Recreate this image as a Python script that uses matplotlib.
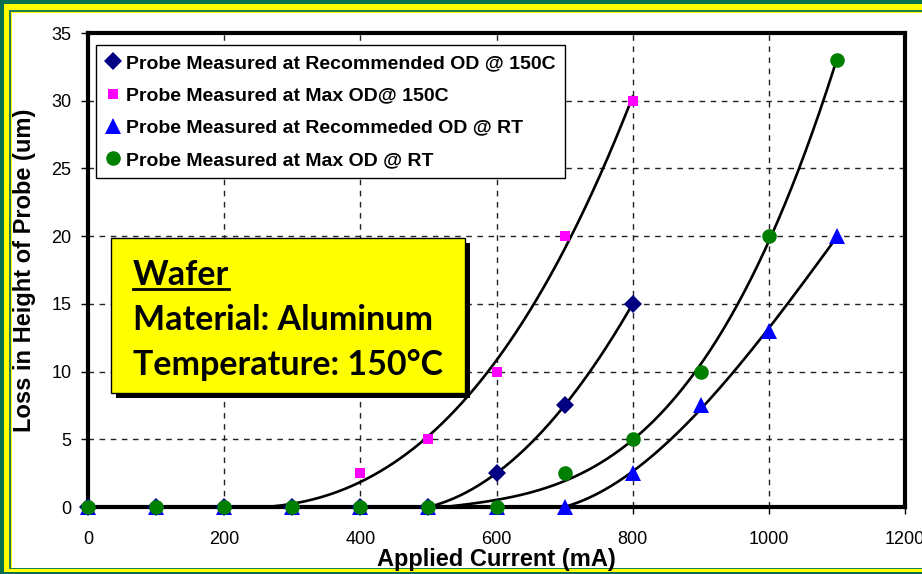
import matplotlib
matplotlib.use("Agg")
import matplotlib.pyplot as plt
from matplotlib.patches import Rectangle
from matplotlib.lines import Line2D
import numpy as np

# probe wear data, applied current in mA, height loss in um
current_150c = [0, 100, 200, 300, 400, 500, 600, 700, 800]
loss_rec_150c = [0, 0, 0, 0, 0, 0, 2.5, 7.5, 15]
loss_max_150c = [0, 0, 0, 0, 2.5, 5, 10, 20, 30]

current_rt = [0, 100, 200, 300, 400, 500, 600, 700, 800, 900, 1000, 1100]
loss_rec_rt = [0, 0, 0, 0, 0, 0, 0, 0, 2.5, 7.5, 13, 20]
loss_max_rt = [0, 0, 0, 0, 0, 0, 0, 2.5, 5, 10, 20, 33]

labels = ["Probe Measured at Recommended OD @ 150C",
          "Probe Measured at Max OD@ 150C",
          "Probe Measured at Recommeded OD @ RT",
          "Probe Measured at Max OD @ RT"]

W, H = 922, 574
fig = plt.figure(figsize=(W / 100, H / 100), dpi=100)


def fr(x0, y0, x1, y1):
    # pixel box (top-left origin) -> figure fraction rect args
    return (x0 / W, 1 - y1 / H), (x1 - x0) / W, (y1 - y0) / H


# slide frame
green = "#0b6e4c"
yellow = "#ffff00"
for (l, t, b), c in [((0, 0, 574), green), ((4, 4, 572), yellow),
                     ((9, 10, 569), "#1f7d4f"), ((10.5, 11.5, 568), yellow),
                     ((12, 13, 568), "white")]:
    xy, w, h = fr(l, t, W + 10, b)
    fig.patches.append(Rectangle(xy, w, h, transform=fig.transFigure,
                                 facecolor=c, edgecolor="none", zorder=-5))

ax = fig.add_axes([88 / W, 1 - 507 / H, (905 - 88) / W, (507 - 33) / H])
ax.set_zorder(1)
ax.set_facecolor("white")

series = [
    (current_150c, loss_rec_150c, "D", "#000080", 9.5),
    (current_150c, loss_max_150c, "s", "#ff00ff", 6.5),
    (current_rt, loss_rec_rt, "^", "#0000ff", 11),
    (current_rt, loss_max_rt, "o", "#007f00", 10.5),
]

handles = []
for (x, y, m, c, ms), lab in zip(series, labels):
    h, = ax.plot(x, y, linestyle="none", marker=m, color=c, markersize=ms,
                 markeredgewidth=0, clip_on=False, zorder=5, label=lab)
    handles.append(h)
    # cubic trendline over the rising part (from two zeros before the onset)
    x = np.asarray(x, float)
    y = np.asarray(y, float)
    k = max(np.argmax(y > 0) - 2, 0)
    coef = np.polyfit(x[k:], y[k:], 3)
    xs = np.linspace(x[k], x[-1], 300)
    ys = np.clip(np.polyval(coef, xs), 0, None)
    ax.plot(xs, ys, color="black", lw=1.9, zorder=4)

ax.set_xlim(0, 1200)
ax.set_ylim(0, 35)
ax.set_xticks(range(0, 1201, 200))
ax.set_yticks(range(0, 36, 5))
ax.grid(True, color="#222222", linestyle=(0, (4, 4)), linewidth=1)
ax.set_axisbelow(True)
for s in ax.spines.values():
    s.set_linewidth(3)
    s.set_zorder(3)
ax.tick_params(direction="out", length=5, width=1)
ax.tick_params(axis="x", labelsize=13, pad=12)
ax.tick_params(axis="y", labelsize=13, pad=7)
for t in ax.get_xticklabels() + ax.get_yticklabels():
    t.set_family("Liberation Sans")

ax.set_xlabel("Applied Current (mA)", fontsize=17, fontweight="bold",
              family="Liberation Sans")
ax.set_ylabel("Loss in Height of Probe (um)", fontsize=17, fontweight="bold",
              family="Liberation Sans")
ax.xaxis.set_label_coords(0.5, -(548 - 507) / 474)
ax.yaxis.set_label_coords(-0.064, 0.5)

leg = ax.legend(handles=handles, loc="upper left",
                bbox_to_anchor=(8 / 817, (507 - 45) / 474), borderaxespad=0,
                fancybox=False, framealpha=1, edgecolor="black",
                prop={"family": "Liberation Sans", "weight": "bold", "size": 14},
                handlelength=0.75, handletextpad=0.3, labelspacing=0.76,
                borderpad=0.48)
leg.get_frame().set_linewidth(1)
leg.set_zorder(10)

# info box with drop shadow
xy, w, h = fr(116, 243, 470, 398)
fig.patches.append(Rectangle(xy, w, h, transform=fig.transFigure,
                             facecolor="black", edgecolor="none", zorder=20))
xy, w, h = fr(111, 238, 465, 393)
fig.patches.append(Rectangle(xy, w, h, transform=fig.transFigure,
                             facecolor=yellow, edgecolor="black", lw=1, zorder=21))
box_lines = ["Wafer", "Material: Aluminum", "Temperature: 150\u00b0C"]
baselines = [285, 330, 375]
txts = []
for s, yb in zip(box_lines, baselines):
    txts.append(fig.text(133 / W, 1 - yb / H, s, fontsize=24.5, fontweight="bold",
                         family="Lato", va="baseline", ha="left", zorder=22))

fig.canvas.draw()
bb = txts[0].get_window_extent()
uy = 1 - 289 / H
fig.lines.append(Line2D([bb.x0 / W, bb.x1 / W], [uy, uy], color="black",
                        lw=2, transform=fig.transFigure, zorder=22))

fig.savefig("out.png", dpi=100)
